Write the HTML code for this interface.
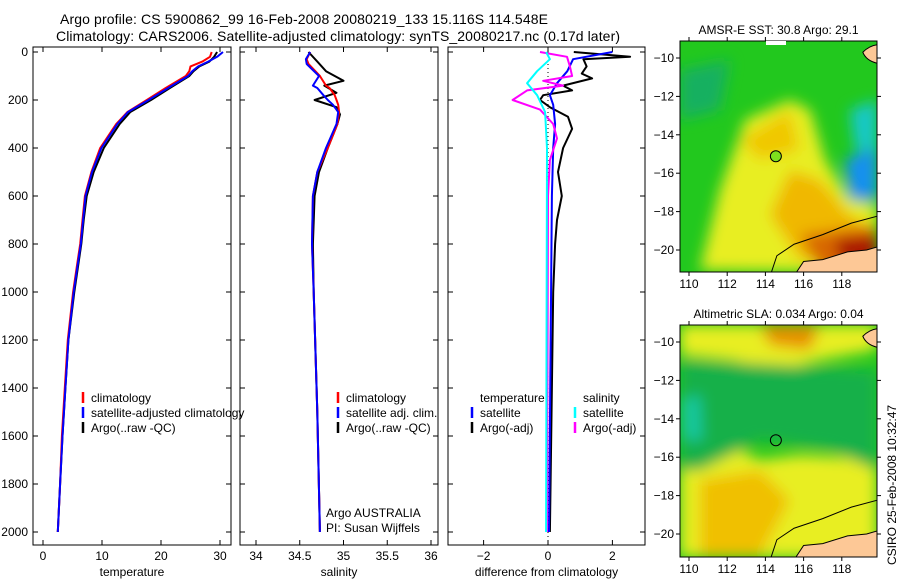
<!DOCTYPE html>
<html><head><meta charset="utf-8">
<style>
html,body{margin:0;padding:0;background:#fff;}
svg{display:block;font-family:"Liberation Sans",Arial,sans-serif;}
</style></head>
<body>
<svg id="chart" width="900" height="580" viewBox="0 0 900 580" xmlns="http://www.w3.org/2000/svg">
<defs>
<filter id="blur" x="-20%" y="-20%" width="140%" height="140%"><feGaussianBlur stdDeviation="7"/></filter>
<clipPath id="clipT"><rect x="680" y="41" width="197" height="231"/></clipPath>
<clipPath id="clipB"><rect x="680" y="325" width="197" height="232"/></clipPath>
</defs>
<text x="60" y="24" font-size="14" textLength="488">Argo profile: CS 5900862_99 16-Feb-2008 20080219_133 15.116S 114.548E</text>
<text x="56" y="41" font-size="14" textLength="564">Climatology: CARS2006. Satellite-adjusted climatology: synTS_20080217.nc (0.17d later)</text>
<g id="panels"></g>
<g id="maps"></g>
<text transform="translate(896,565) rotate(-90)" font-size="12">CSIRO 25-Feb-2008 10:32:47</text>
</svg>
<script>
// ---------- data ----------
const depthTicks = [0,200,400,600,800,1000,1200,1400,1600,1800,2000];
const tempTicks = [0,10,20,30];
const salTicks = [34,34.5,35,35.5,36];
const diffTicks = [-2,0,2];

const tDepth = [0,20,40,60,80,100,150,200,250,300,400,500,600,700,800,900,1000,1200,1400,1600,1800,2000];
const tClim  = [28.6,28.3,27.0,25.0,24.8,24.2,20.8,17.6,14.3,12.4,9.7,8.2,7.1,6.7,6.3,5.7,5.1,4.2,3.7,3.2,2.9,2.5];
const tSat   = [30.5,29.5,28.0,26.3,25.3,24.6,21.2,17.9,14.4,12.6,9.9,8.3,7.2,6.8,6.4,5.8,5.2,4.3,3.8,3.3,2.9,2.5];
const tArgo  = [29.5,29.0,28.2,26.5,25.5,24.8,21.5,18.3,14.8,13.0,10.3,8.6,7.4,6.9,6.5,5.9,5.3,4.3,3.8,3.3,2.9,2.5];

const sDepth = [0,30,50,100,140,150,180,200,220,250,300,400,500,600,800,1000,1500,2000];
const sClim  = [34.62,34.58,34.6,34.73,34.8,34.84,34.9,34.92,34.94,34.95,34.93,34.82,34.7,34.65,34.64,34.66,34.7,34.73];
const sSat   = [34.62,34.57,34.58,34.72,34.65,34.7,34.77,34.82,34.88,34.94,34.92,34.8,34.7,34.65,34.64,34.66,34.7,34.73];
const sArgoD = [0,40,80,120,140,170,200,230,260,300,400,500,600,800,1000,1500,2000];
const sArgo  = [34.6,34.7,34.8,35.0,34.78,34.92,34.67,34.92,34.96,34.93,34.82,34.72,34.67,34.65,34.66,34.7,34.73];

const dDepthA = [0,20,30,60,90,110,140,160,180,200,230,270,320,400,500,600,700,800,1000,2000];
const dTempArgo = [0.8,2.55,1.1,1.2,1.05,1.37,0.47,0.75,-0.15,-0.25,0.06,0.62,0.75,0.47,0.31,0.43,0.28,0.22,0.16,0.06];
const dDepthS = [0,30,80,130,180,220,300,400,600,2000];
const dTempSat = [2.0,0.78,0.6,0.28,0.06,0.16,0.22,0.16,0.12,0.03];
const dDepthM = [0,20,60,100,120,140,160,200,240,300,360,450,600,2000];
const dSalArgo = [-0.25,0.59,0.68,0.75,-0.15,0.47,-0.65,-1.1,-0.25,0.16,0.28,0.06,0.0,-0.03];
const dDepthC = [0,30,80,130,180,250,400,2000];
const dSalSat = [-0.06,0.06,-0.34,-0.65,-0.34,-0.09,-0.03,-0.06];

const mapLonTicks = [110,112,114,116,118];
const mapLatTicks = [-10,-12,-14,-16,-18,-20];
const argoLon = 114.548, argoLat = -15.116;

const NS="http://www.w3.org/2000/svg";
function el(tag, attrs, parent){const e=document.createElementNS(NS,tag);for(const k in attrs)e.setAttribute(k,attrs[k]);parent.appendChild(e);return e;}
const panelsG=document.getElementById('panels');
const mapsG=document.getElementById('maps');

const yTop=52, yScale=0.24;
const yD = d => yTop + d*yScale;

function panel(x0,x1,xs,ticks,label,name){
  const g=el('g',{},panelsG);
  
  
  const r=el('rect',{x:x0,y:47,width:x1-x0,height:498,fill:'none',stroke:'#000','stroke-width':1},g);
  
  
  ticks.forEach(t=>{
    const x=xs(t);
    el('line',{x1:x,x2:x,y1:545,y2:540,stroke:'#000'},g);
    el('line',{x1:x,x2:x,y1:47,y2:52,stroke:'#000'},g);
    const tx=el('text',{x:x,y:560,'font-size':12,'text-anchor':'middle'},g);
    tx.textContent=(t<0?'\u2212'+(-t):t);
    
    
  });
  depthTicks.forEach(d=>{
    const y=yD(d);
    el('line',{x1:x0,x2:x0+5,y1:y,y2:y,stroke:'#000'},g);
    el('line',{x1:x1,x2:x1-5,y1:y,y2:y,stroke:'#000'},g);
  });
  const lt=el('text',{x:(x0+x1)/2,y:576,'font-size':12,'text-anchor':'middle'},g);
  lt.textContent=label;
  
  
  return {g,xs};
}
function series(p,depths,vals,color,w,name){
  const pts=depths.map((d,i)=>p.xs(vals[i]).toFixed(1)+','+yD(d).toFixed(1)).join(' ');
  const l=el('polyline',{points:pts,fill:'none',stroke:color,'stroke-width':w,'stroke-linejoin':'round'},p.g);
  
  
}
function legend(p,x,y,items){
  items.forEach((it,i)=>{
    const yy=y+i*15;
    if(it[1]) el('line',{x1:x,x2:x,y1:yy-10,y2:yy+1,stroke:it[1],'stroke-width':2.5},p.g);
    const t=el('text',{x:x+8,y:yy,'font-size':12},p.g);
    t.textContent=it[0];
    
    
  });
}

depthTicks.forEach(d=>{
  const t=el('text',{x:28,y:yD(d)+4,'font-size':12,'text-anchor':'end'},panelsG);
  t.textContent=d;
  
  
});

const p1=panel(33,231,v=>43+v*5.9,tempTicks,'temperature','temperature-panel');
series(p1,tDepth,tArgo,'#000',2,'temp-argo-line');
series(p1,tDepth,tClim,'#f00',2,'temp-climatology-line');
series(p1,tDepth,tSat,'#00f',2,'temp-satellite-line');
legend(p1,83,402,[['climatology','#f00'],['satellite-adjusted climatology','#00f'],['Argo(..raw -QC)','#000']]);

const p2=panel(240,438,v=>256+(v-34)*87.5,salTicks,'salinity','salinity-panel');
series(p2,sArgoD,sArgo,'#000',2,'sal-argo-line');
series(p2,sDepth,sClim,'#f00',2,'sal-climatology-line');
series(p2,sDepth,sSat,'#00f',2,'sal-satellite-line');
legend(p2,338,402,[['climatology','#f00'],['satellite adj. clim.','#00f'],['Argo(..raw -QC)','#000']]);
[['Argo AUSTRALIA',517],['PI: Susan Wijffels',532]].forEach(a=>{
  const t=el('text',{x:326,y:a[1],'font-size':12},p2.g);t.textContent=a[0];
  
  
});

const p3=panel(448,645,v=>548+v*32.2,diffTicks,'difference from climatology','difference-panel');
el('line',{x1:p3.xs(0),x2:p3.xs(0),y1:52,y2:545,stroke:'#000','stroke-dasharray':'1,3'},p3.g);
series(p3,dDepthA,dTempArgo,'#000',2,'diff-temp-argo-line');
series(p3,dDepthS,dTempSat,'#00f',2,'diff-temp-satellite-line');
series(p3,dDepthM,dSalArgo,'#f0f',2,'diff-sal-argo-line');
series(p3,dDepthC,dSalSat,'#0ff',2,'diff-sal-satellite-line');
legend(p3,472,402,[['temperature',null],['satellite','#00f'],['Argo(-adj)','#000']]);
legend(p3,575,402,[['salinity',null],['satellite','#0ff'],['Argo(-adj)','#f0f']]);

// ---------- maps ----------
function map(y0,h,title,name,clip,blobs){
  const g=el('g',{},mapsG);
  
  
  const x0=680,w=197;
  const lx = lon => 689 + (lon-110)*19.1;
  const ly = lat => (y0+17) + (-10-lat)*19.2;
  const inner=el('g',{'clip-path':'url(#'+clip+')'},g);
  el('rect',{x:x0,y:y0,width:w,height:h,fill:'#22c81e'},inner);
  const bg=el('g',{filter:'url(#blur)'},inner);
  blobs.forEach(b=>el('path',{d:b[0],fill:b[1]},bg));
  el('path',{d:`M${lx(115.6)},${ly(-21.2)} L${lx(116)},${ly(-20.6)} L${lx(117)},${ly(-20.5)} L${lx(118.3)},${ly(-20.1)} L${lx(119.3)},${ly(-20.0)} L${lx(120)},${ly(-19.8)} L${lx(120)},${ly(-21.5)} Z`,fill:'#fdc896',stroke:'#000','stroke-width':1},inner);
  el('path',{d:`M${lx(119.1)},${ly(-9.7)} Q${lx(119.5)},${ly(-9.3)} ${lx(120)},${ly(-9.3)} L${lx(120)},${ly(-10.3)} Q${lx(119.3)},${ly(-10.2)} ${lx(119.1)},${ly(-9.7)} Z`,fill:'#fdc896',stroke:'#000','stroke-width':1},inner);
  el('path',{d:`M${lx(114.3)},${ly(-21.2)} L${lx(114.6)},${ly(-20.3)} L${lx(115.5)},${ly(-19.7)} L${lx(117)},${ly(-19.2)} L${lx(118.5)},${ly(-18.6)} L${lx(120)},${ly(-18.2)}`,fill:'none',stroke:'#000','stroke-width':1},inner);
  const fr=el('rect',{x:x0,y:y0,width:w,height:h,fill:'none',stroke:'#000'},g);
  
  
  mapLonTicks.forEach(l=>{
    const x=lx(l);
    el('line',{x1:x,x2:x,y1:y0+h,y2:y0+h+4,stroke:'#000'},g);
    el('line',{x1:x,x2:x,y1:y0,y2:y0-4,stroke:'#000'},g);
    const t=el('text',{x:x,y:y0+h+16,'font-size':12,'text-anchor':'middle'},g);t.textContent=l;
    
    
  });
  mapLatTicks.forEach(l=>{
    const y=ly(l);
    el('line',{x1:x0,x2:x0-4,y1:y,y2:y,stroke:'#000'},g);
    el('line',{x1:x0+w,x2:x0+w+4,y1:y,y2:y,stroke:'#000'},g);
    const t=el('text',{x:x0-6,y:y+4,'font-size':12,'text-anchor':'end'},g);t.textContent='\u2212'+(-l);
    
    
  });
  const tt=el('text',{x:x0+w/2,y:y0-7,'font-size':12,'text-anchor':'middle'},g);tt.textContent=title;
  
  
  const c=el('circle',{cx:lx(argoLon),cy:ly(argoLat),r:5.5,fill:clip==='clipT'?'#7ee01e':'none',stroke:'#000'},g);
  
  
  return g;
}
map(41,231,'AMSR-E SST: 30.8  Argo: 29.1','sst-map','clipT',[
  ['M700,270 L720,190 L745,120 L790,100 L810,110 L825,160 L850,200 L877,205 L877,272 Z','#e8ee20'],
  ['M790,170 L820,180 L850,215 L877,230 L877,265 L800,260 L770,215 Z','#f0b800'],
  ['M800,235 L877,225 L877,272 L820,272 Z','#d86800'],
  ['M835,240 L877,235 L877,260 L840,262 Z','#a81000'],
  ['M740,140 L790,110 L800,150 L760,160 Z','#f0c800'],
  ['M845,160 L877,145 L877,200 L850,200 Z','#1890f0'],
  ['M850,110 L877,100 L877,150 L855,150 Z','#18c8c8'],
  ['M680,70 L730,60 L720,110 L680,120 Z','#18b060']
]);
el('rect',{x:766,y:41,width:20,height:4,fill:'#fff'},mapsG);
map(325,232,'Altimetric SLA: 0.034  Argo: 0.04','sla-map','clipB',[
  ['M680,325 L877,325 L877,350 L820,360 L780,370 L730,360 L680,355 Z','#e8ee20'],
  ['M760,325 L820,325 L810,350 L770,345 Z','#e89000'],
  ['M680,470 L720,440 L760,460 L800,455 L877,460 L877,557 L680,557 Z','#e8ee20'],
  ['M700,480 L760,470 L790,500 L760,557 L700,557 Z','#f0c000'],
  ['M680,360 L877,370 L877,470 L830,450 L760,440 L700,470 L680,470 Z','#18b048'],
  ['M682,400 L700,395 L702,440 L684,440 Z','#18c8a0']
]);
</script>
</body></html>
